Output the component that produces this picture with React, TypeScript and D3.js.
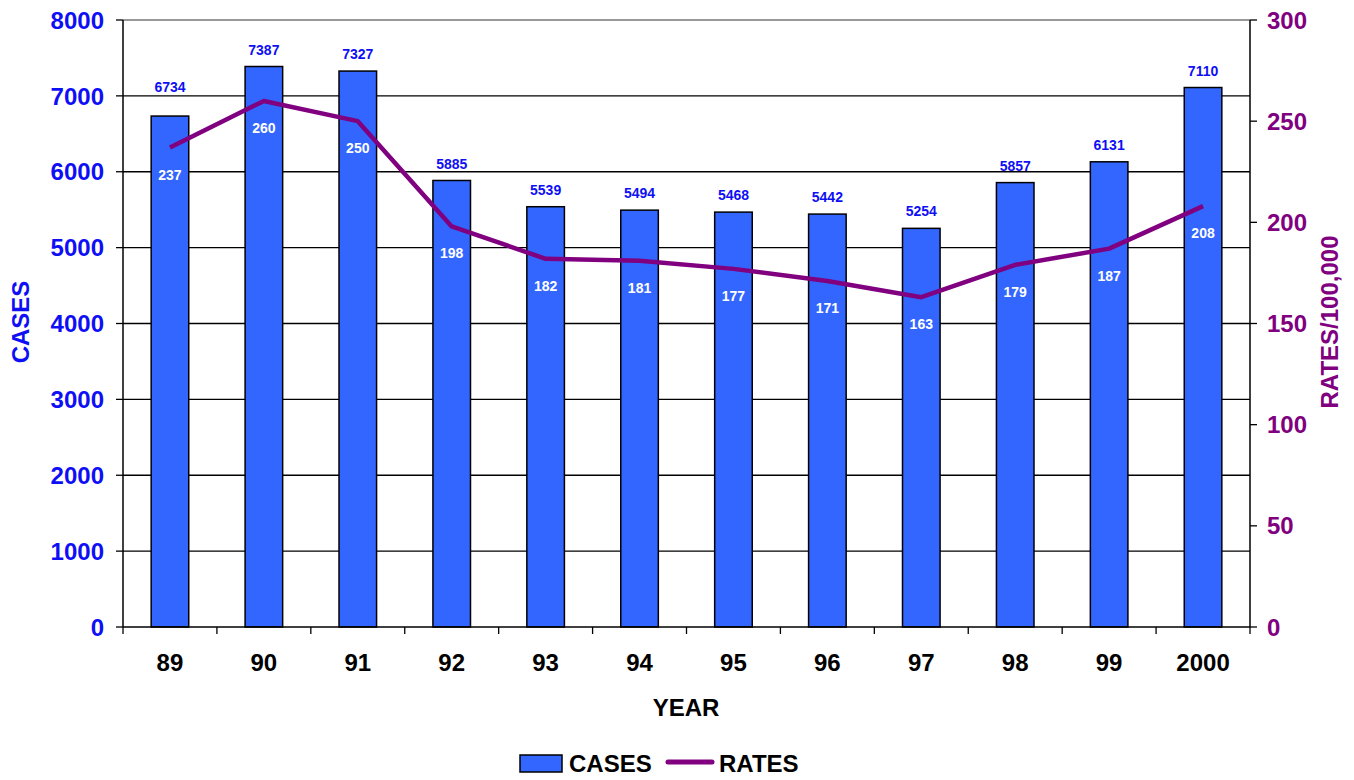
import React from "react";
import * as d3 from "d3";

const years = ["89", "90", "91", "92", "93", "94", "95", "96", "97", "98", "99", "2000"];
const cases = [6734, 7387, 7327, 5885, 5539, 5494, 5468, 5442, 5254, 5857, 6131, 7110];
const rates = [237, 260, 250, 198, 182, 181, 177, 171, 163, 179, 187, 208];
const leftTicks = [0, 1000, 2000, 3000, 4000, 5000, 6000, 7000, 8000];
const rightTicks = [0, 50, 100, 150, 200, 250, 300];

const W = 1354, H = 780;
const L = 123, R = 1250, T = 20, B = 627;
const FONT = "Liberation Sans, Arial, sans-serif";
const BLUE = "#0F0FF5";
const PURPLE = "#800080";
const BAR = "#3366FF";

export default function App() {
  const x = d3.scaleBand<string>().domain(years).range([L, R]).paddingInner(0.6).paddingOuter(0.3);
  const band = d3.scaleBand<string>().domain(years).range([L, R]);
  const yL = d3.scaleLinear().domain([0, 8000]).range([B, T]);
  const yR = d3.scaleLinear().domain([0, 300]).range([B, T]);
  const cx = (y: string) => band(y)! + band.bandwidth() / 2;
  const line = d3.line<number>().x((_, i) => cx(years[i])).y((d) => yR(d));

  return (
    <svg width={W} height={H} style={{ position: "absolute", left: 0, top: 0, background: "#fff" }} fontFamily={FONT}>
      {leftTicks.map((t) => (
        <g key={"g" + t}>
          {t > 0 && <line x1={L} x2={R} y1={yL(t)} y2={yL(t)} stroke={t === 8000 ? "#777" : "#000"} strokeWidth={1.3} />}
          <line x1={L - 7} x2={L} y1={yL(t)} y2={yL(t)} stroke="#000" strokeWidth={1.3} />
          <text x={104} y={yL(t)} dy="0.36em" textAnchor="end" fill={BLUE} fontWeight="bold" fontSize={24}>{t}</text>
        </g>
      ))}
      {rightTicks.map((t) => (
        <g key={"r" + t}>
          <line x1={R} x2={R + 7} y1={yR(t)} y2={yR(t)} stroke="#000" strokeWidth={1.3} />
          <text x={1267} y={yR(t)} dy="0.36em" textAnchor="start" fill={PURPLE} fontWeight="bold" fontSize={24}>{t}</text>
        </g>
      ))}
      {years.map((y, i) => (
        <rect key={"b" + y} x={x(y)} y={yL(cases[i])} width={x.bandwidth()} height={B - yL(cases[i])} fill={BAR} stroke="#000" strokeWidth={1.5} />
      ))}
      <line x1={L} x2={L} y1={T} y2={B} stroke="#000" strokeWidth={1.5} />
      <line x1={R} x2={R} y1={T} y2={B} stroke="#000" strokeWidth={1.5} />
      <line x1={L} x2={R} y1={B} y2={B} stroke="#000" strokeWidth={1.5} />
      {years.map((y) => (
        <line key={"xt" + y} x1={band(y)! + band.bandwidth()} x2={band(y)! + band.bandwidth()} y1={B} y2={B + 7} stroke="#000" strokeWidth={1.3} />
      ))}
      <line x1={L} x2={L} y1={B} y2={B + 7} stroke="#000" strokeWidth={1.3} />
      <path d={line(rates) || ""} fill="none" stroke={PURPLE} strokeWidth={4.5} strokeLinejoin="round" />
      {years.map((y, i) => (
        <text key={"cl" + y} x={cx(y)} y={yL(cases[i]) - (i === 0 ? 29 : 17)} dy="0.36em" textAnchor="middle" fill={BLUE} fontWeight="bold" fontSize={14}>{cases[i]}</text>
      ))}
      {years.map((y, i) => (
        <text key={"rl" + y} x={cx(y)} y={yR(rates[i]) + 27} dy="0.36em" textAnchor="middle" fill="#fff" fontWeight="bold" fontSize={14}>{rates[i]}</text>
      ))}
      {years.map((y) => (
        <text key={"xl" + y} x={cx(y)} y={662} dy="0.36em" textAnchor="middle" fill="#000" fontWeight="bold" fontSize={24}>{y}</text>
      ))}
      <text x={686} y={707} dy="0.36em" textAnchor="middle" fontWeight="bold" fontSize={24} fill="#000">YEAR</text>
      <text transform={`translate(20,322) rotate(-90)`} dy="0.36em" textAnchor="middle" fontWeight="bold" fontSize={24} fill={BLUE}>CASES</text>
      <text transform={`translate(1329,322) rotate(-90)`} dy="0.36em" textAnchor="middle" fontWeight="bold" fontSize={24} fill={PURPLE}>RATES/100,000</text>
      <rect x={520} y={755} width={42} height={17} fill={BAR} stroke="#000" strokeWidth={1.5} />
      <text x={569} y={763} dy="0.36em" fontWeight="bold" fontSize={24} fill="#000">CASES</text>
      <line x1={668} x2={712} y1={762} y2={762} stroke={PURPLE} strokeWidth={5} strokeLinecap="round" />
      <text x={719} y={763} dy="0.36em" fontWeight="bold" fontSize={24} fill="#000">RATES</text>
    </svg>
  );
}
